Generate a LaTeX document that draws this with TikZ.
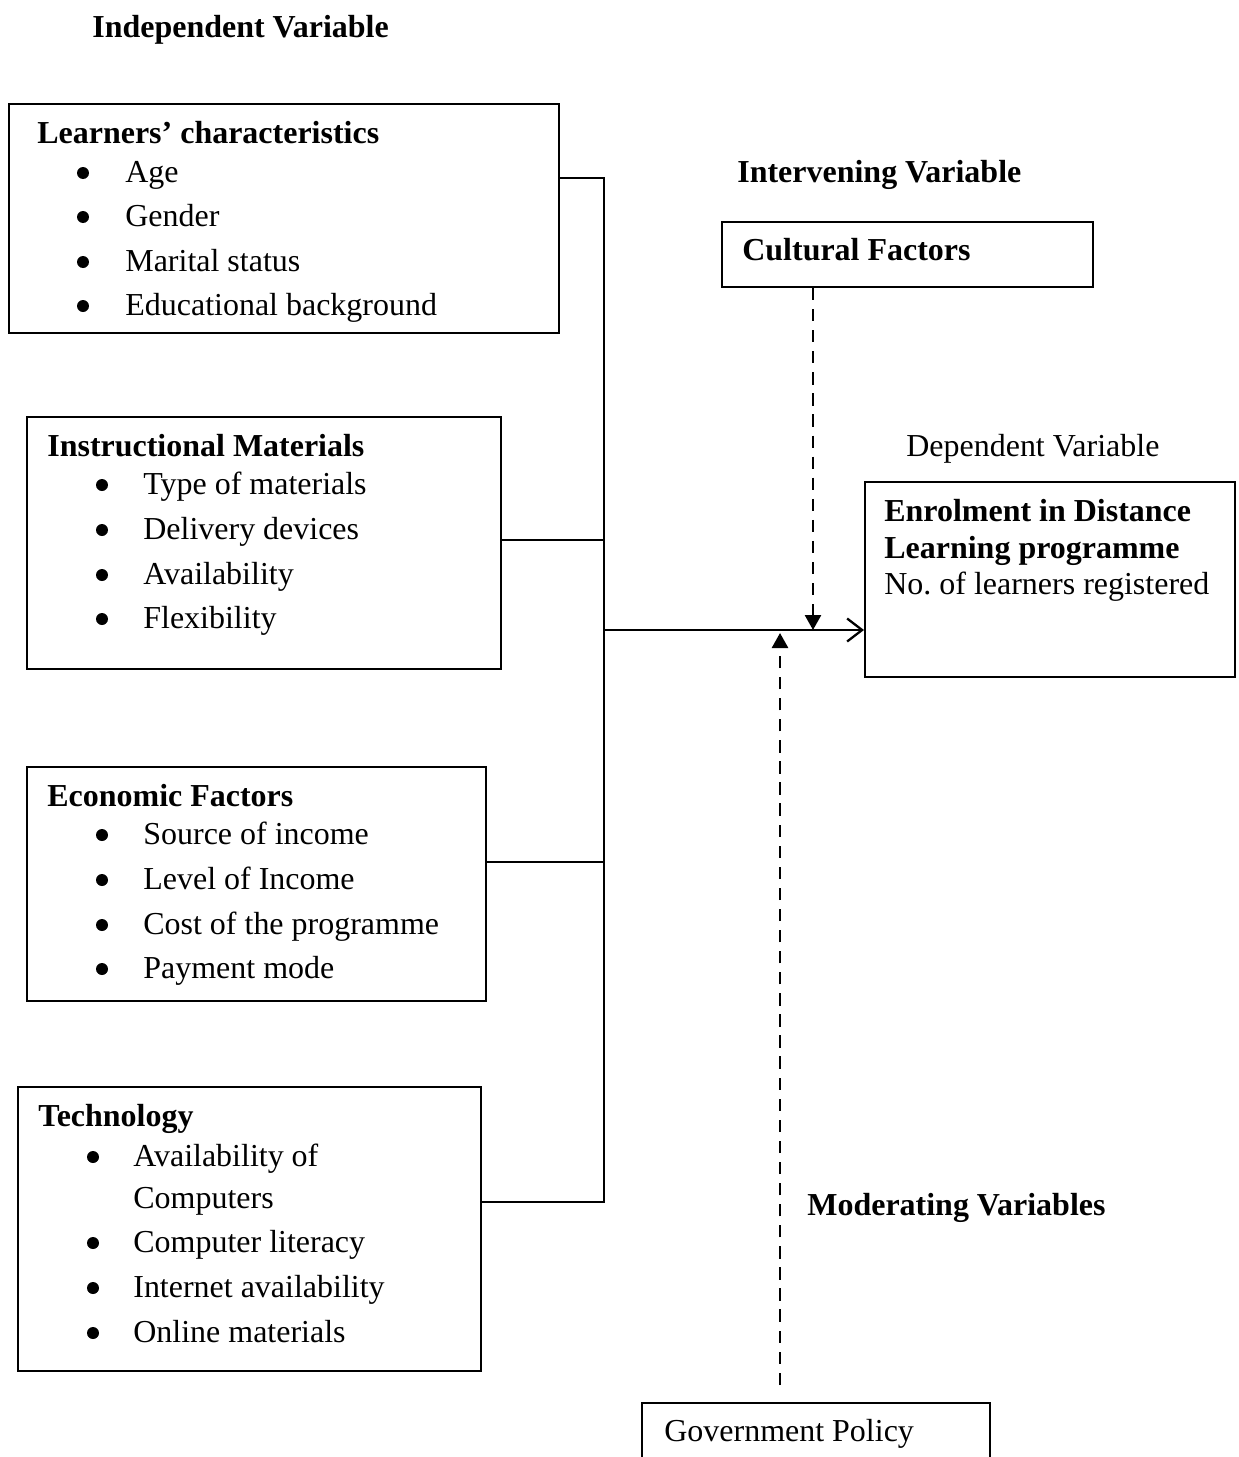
\documentclass[tikz,border=0pt]{standalone}
\usepackage{fontspec}
\setmainfont{Liberation Serif}
\usetikzlibrary{arrows.meta,positioning}
\tikzset{
  varbox/.style={draw,line width=1.1pt,anchor=north west,inner sep=0pt},
  txt/.style={anchor=base west,inner sep=0pt,font=\fontsize{18.2}{25.4}\selectfont},
  head/.style={txt,font=\fontsize{18.2}{25.4}\selectfont\bfseries},
  dot/.style={circle,fill,inner sep=0pt,minimum size=0.24cm}
}

\begin{document}
\begin{tikzpicture}[
  x=0.02cm,y=-0.02cm,
  link/.style={line width=1.1pt},
  mainarrow/.style={-{Straight Barb[length=0.3cm,width=0.46cm]},line width=1.3pt},
  dasharrow/.style={-{Triangle[length=0.3cm,width=0.32cm]},line width=1.5pt,
    dash pattern=on 7pt off 5pt}
]
  \useasboundingbox (0,0) rectangle (1238,1457);

  \node[head] (indep) at (92,37) {Independent Variable};

  % independent variables
  \node[varbox,minimum width=11cm,minimum height=4.58cm] (learn) at (8,103) {};
  \node[head] (learnh) at (37,143) {Learners’ characteristics};
  \foreach \y/\t [count=\i] in {182/Age,226/Gender,271/Marital status,315/Educational background} {
    \node[dot] (learnb\i) at (83,\y-9) {};
    \node[txt] (learni\i) at (125,\y) {\t};
  }

  \node[varbox,minimum width=9.48cm,minimum height=5.04cm] (instr) at (26,416) {};
  \node[head] (instrh) at (47,456) {Instructional Materials};
  \foreach \y/\t [count=\i] in {494/Type of materials,539/Delivery devices,584/Availability,628/Flexibility} {
    \node[dot] (instrb\i) at (102,\y-9) {};
    \node[txt] (instri\i) at (143,\y) {\t};
  }

  \node[varbox,minimum width=9.18cm,minimum height=4.68cm] (econ) at (26,766) {};
  \node[head] (econh) at (47,806) {Economic Factors};
  \foreach \y/\t [count=\i] in {844/Source of income,889/Level of Income,934/Cost of the programme,978/Payment mode} {
    \node[dot] (econb\i) at (102,\y-9) {};
    \node[txt] (econi\i) at (143,\y) {\t};
  }

  \node[varbox,minimum width=9.26cm,minimum height=5.68cm] (tech) at (17,1086) {};
  \node[head] (techh) at (38,1126) {Technology};
  \foreach \y/\t [count=\i] in {1166/Availability of,1252/Computer literacy,1297/Internet availability,1342/Online materials} {
    \node[dot] (techb\i) at (93,\y-9) {};
    \node[txt] (techi\i) at (133,\y) {\t};
  }
  \node[txt] (techc) at (133,1208) {Computers};

  % intervening, dependent, moderating
  \node[head] (interv) at (737,182) {Intervening Variable};
  \node[varbox,minimum width=7.42cm,minimum height=1.3cm] (cult) at (721,221) {};
  \node[head] (culth) at (742,260) {Cultural Factors};

  \node[txt] (dep) at (906,456) {Dependent Variable};
  \node[varbox,minimum width=7.4cm,minimum height=3.9cm] (enrol) at (864,481) {};
  \node[head] (enrolh1) at (884,521) {Enrolment in Distance};
  \node[head] (enrolh2) at (884,558) {Learning programme};
  \node[txt] (enroli) at (884,594) {No.\ of learners registered};

  \node[head] (moder) at (807,1215) {Moderating Variables};
  \node[varbox,minimum width=6.96cm,minimum height=1.24cm] (gov) at (641,1402) {};
  \node[txt] (govh) at (664,1441) {Government Policy};

  % connectors
  \coordinate (bustop) at (604,178);
  \coordinate (busbot) at (604,1202);
  \coordinate (junc) at (604,630);
  \coordinate (govtop) at (780,1385);
  \draw[link] (learn.east |- bustop) -- (bustop) -- (busbot) -- (tech.east |- busbot);
  \draw[link] (instr.east |- 0,540) -- (604,540);
  \draw[link] (econ.east |- 0,862) -- (604,862);
  \draw[mainarrow] (junc) -- (enrol.west |- junc);
  \draw[dasharrow] (cult.south -| 813,0) -- (813,630);
  \draw[dasharrow] (govtop) -- (780,633);
\end{tikzpicture}
\end{document}
